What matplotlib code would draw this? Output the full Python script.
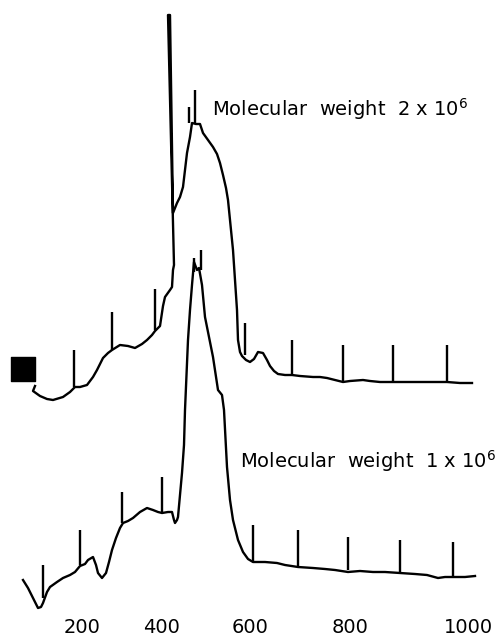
import matplotlib
matplotlib.use("Agg")
import matplotlib.pyplot as plt

# Chart units: horizontal position along the recorder trace, vertical = trace height (drawn downward)
top_x = [35, 33, 40, 47, 53, 63, 70, 75, 80, 87, 93, 97, 103, 108, 112, 120, 128, 135, 142, 147, 152, 155,
         160, 163, 165, 170, 172, 173, 174, 168, 170, 173, 177, 180, 183, 185, 187, 190, 192, 196, 200, 203,
         208, 213, 217, 220, 223, 226, 228, 230, 233, 235, 237, 238, 240, 242, 246, 250, 254, 258, 263, 267,
         270, 274, 278, 285, 292, 300, 313, 320, 327, 335, 343, 350, 363, 370, 380, 393, 405, 417, 430, 447,
         460, 472]
top_y = [386, 391, 396, 399, 400, 397, 392, 387, 387, 385, 377, 370, 358, 353, 350, 345, 346, 348, 344, 340, 335, 331,
         326, 306, 297, 290, 287, 270, 265, 15, 15, 213, 203, 197, 187, 170, 153, 137, 123, 124, 124, 133,
         140, 147, 154, 163, 175, 188, 200, 220, 250, 280, 310, 340, 352, 356, 360, 362, 359, 352, 353, 360,
         366, 371, 374, 375, 375, 376, 377, 377, 378, 380, 382, 381, 380, 381, 382, 382, 382, 382, 382, 382,
         383, 383]

bot_x = [23, 28, 33, 38, 41, 43, 47, 50, 57, 63, 70, 75, 80, 85, 88, 93, 96, 98, 102, 106, 109, 112, 116, 120,
         123, 128, 133, 140, 147, 153, 158, 162, 168, 172, 174, 175, 177, 178, 180, 182, 184, 185, 188, 190,
         192, 194, 197, 199, 202, 205, 209, 213, 218, 222, 224, 227, 230, 233, 236, 238, 243, 248, 253, 265,
         277, 285, 298, 313, 325, 335, 348, 360, 373, 385, 400, 415, 427, 438, 445, 453, 465, 475]
bot_y = [580, 588, 598, 608, 607, 603, 592, 587, 582, 578, 575, 572, 566, 564, 560, 557, 565, 573, 578, 573, 562, 550, 538, 528,
         523, 521, 518, 512, 508, 510, 512, 513, 512, 512, 520, 523, 520, 517, 495, 473, 445, 410, 340, 310,
         285, 262, 270, 268, 285, 317, 337, 357, 390, 395, 410, 467, 500, 520, 532, 540, 552, 559, 562, 562,
         563, 565, 567, 568, 569, 570, 572, 571, 572, 572, 573, 574, 575, 578, 577, 577, 577, 576]

# Calibration marks drawn on the traces (position, foot, head)
top_mark_x = [74, 112, 155, 189, 195, 245, 292, 343, 393, 447]
top_mark_foot = [387, 350, 330, 123, 123, 355, 375, 382, 382, 382]
top_mark_head = [350, 312, 289, 107, 90, 323, 340, 345, 345, 345]

bot_mark_x = [43, 80, 122, 162, 194, 201, 253, 298, 348, 400, 453]
bot_mark_foot = [598, 565, 523, 513, 272, 270, 562, 567, 570, 572, 576]
bot_mark_head = [565, 530, 492, 477, 258, 250, 525, 530, 537, 540, 542]

tick_pos = [82, 162, 250, 350, 468]
tick_labels = ["200", "400", "600", "800", "1000"]

label_top = "Molecular  weight  2 x 10$^6$"
label_bot = "Molecular  weight  1 x 10$^6$"

artifact_x = [23]
artifact_y = [369]

fig = plt.figure(figsize=(5, 6.37), dpi=100)
ax = fig.add_axes([0, 27 / 637, 1, 610 / 637])
ax.set_xlim(0, 500)
ax.set_ylim(610, 0)

lw = 1.7
ax.plot(top_x, top_y, color="black", lw=lw, solid_joinstyle="round")
ax.plot(bot_x, bot_y, color="black", lw=lw, solid_joinstyle="round")
ax.vlines(top_mark_x, top_mark_head, top_mark_foot, color="black", lw=lw)
ax.vlines(bot_mark_x, bot_mark_head, bot_mark_foot, color="black", lw=lw)
ax.scatter(artifact_x, artifact_y, marker="s", s=300, color="black")

ax.text(212, 109, label_top, fontsize=14, va="center", ha="left")
ax.text(240, 461, label_bot, fontsize=14, va="center", ha="left")

ax.set_xticks(tick_pos)
ax.set_xticklabels(tick_labels, fontsize=14)
ax.tick_params(axis="x", length=0, pad=5.5)
ax.set_yticks([])
for s in ax.spines.values():
    s.set_visible(False)

fig.savefig("out.png", dpi=100)
